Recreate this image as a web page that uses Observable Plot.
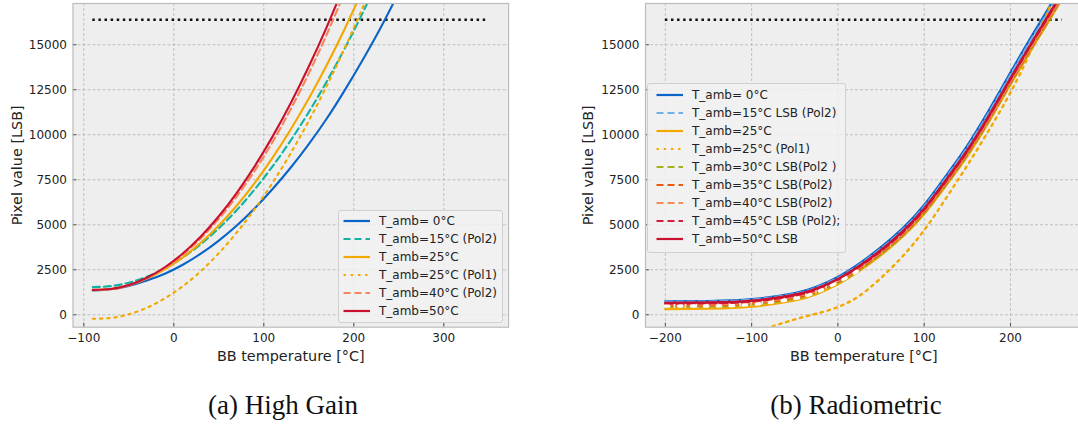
<!DOCTYPE html>
<html><head><meta charset="utf-8">
<script src="https://cdn.jsdelivr.net/npm/d3@7"></script>
<script src="https://cdn.jsdelivr.net/npm/@observablehq/plot@0.6"></script>
<style>
html,body{margin:0;padding:0;background:#fff;overflow:hidden;}
#root{position:relative;width:1078px;height:424px;overflow:hidden;font-family:"DejaVu Sans",sans-serif;}
.panel{position:absolute;top:0;}
.caption{position:absolute;top:390px;height:30px;line-height:30px;font-family:"Liberation Serif","Times New Roman",serif;font-size:27px;color:#111;transform:translateX(-50%);white-space:nowrap;}
.legend{position:absolute;background:rgba(241,241,241,0.85);border:1px solid #d0d0d0;border-radius:3px;font-size:12px;color:#222;box-sizing:border-box;}
.legend .row{position:absolute;height:14px;line-height:14px;white-space:nowrap;}
.legend svg{position:absolute;top:2px;}
.legend span{position:absolute;top:0;}
</style></head><body><div id="root"></div>
<script>
// ---------------- data ----------------
const satLimit = 16383;
const yTicks = [0, 2500, 5000, 7500, 10000, 12500, 15000];
const yDomain = [-690, 17290];

// (a) High Gain
const hgTicksX = [-100, 0, 100, 200, 300];
const hgDomainX = [-112, 372];
const hgSatRange = [-90, 350];
const hgTemps = [-90,-70,-50,-30,-10,10,30,50,70,90,110,130,150,170,190,210,230,250];
const hgT0     = [1350,1420,1600,1900,2280,2780,3390,4120,4960,5920,7000,8180,9480,10900,12480,14170,15960,17900];
const hgT15p2  = [1537,1591,1782,2111,2577,3181,3923,4802,5817,6971,8263,9692,11259,12962,14804,16783,18900,null];
const hgT25    = [1370,1433,1646,2008,2521,3183,3996,4958,6069,7332,8744,10306,12018,13879,15891,18052,null,null];
const hgT25p1  = [-223,-177,26,388,909,1587,2424,3420,4573,5885,7355,8984,10771,12715,14819,17080,19500,null];
const hgT40p2  = [1380,1420,1630,2020,2590,3330,4250,5330,6580,8010,9620,11430,13410,15580,17930,null,null,null];
const hgT50    = [1384,1428,1652,2056,2640,3404,4348,5472,6776,8260,9924,11768,13792,15996,18380,null,null,null];

// (b) Radiometric
const radTicksX = [-200, -100, 0, 100, 200];
const radDomainX = [-223, 283];
const radSatRange = [-200, 260];
const radTemps = [-200,-150,-100,-50,-25,0,25,50,75,100,125,150,175,200,225,250,270];
const radT0    = [740,760,860,1200,1550,2100,2850,3750,4800,6100,7700,9400,11350,13450,15500,17500,19200];
const radT15p2 = [710,730,830,1160,1500,2040,2780,3670,4710,6000,7590,9280,11220,13310,15350,17340,19030];
const radT25   = [320,340,450,800,1150,1700,2440,3320,4340,5600,7160,8820,10730,12790,14800,16760,18430];
const radT25p1 = [null,null,-1000,-260,60,430,1060,2050,3250,4700,6450,8300,10250,12350,14800,17600,19800];
const radT30p2 = [440,460,560,890,1230,1770,2500,3370,4380,5640,7200,8860,10770,12830,14840,16800,18470];
const radT35p2 = [500,520,620,950,1290,1830,2560,3430,4450,5710,7270,8930,10840,12900,14910,16870,18540];
const radT40p2 = [560,580,680,1010,1350,1890,2620,3490,4510,5780,7340,9000,10910,12970,14980,16940,18620];
const radT45p2 = [620,640,740,1070,1410,1950,2680,3550,4570,5840,7410,9080,11000,13070,15090,17060,18740];
const radT50   = [660,680,780,1110,1450,1990,2720,3600,4630,5900,7470,9140,11060,13130,15150,17120,18800];
const radWhite = [480,490,570,900,1250,1800,2500,null,null,null,null,null,null,null,null,null,null];

// ---------------- styling ----------------
const DASH = "7,4", DOT = "2.4,4.8";
const hgSeries = [
  {label:"T_amb= 0°C",        vals:hgT0,    color:"#0a64c8", dash:null},
  {label:"T_amb=15°C (Pol2)", vals:hgT15p2, color:"#10b3a3", dash:DASH},
  {label:"T_amb=25°C",        vals:hgT25,   color:"#f3a800", dash:null},
  {label:"T_amb=25°C (Pol1)", vals:hgT25p1, color:"#f3a800", dash:DOT},
  {label:"T_amb=40°C (Pol2)", vals:hgT40p2, color:"#f8845a", dash:DASH},
  {label:"T_amb=50°C",        vals:hgT50,   color:"#c9102f", dash:null}
];
const radSeries = [
  {label:"T_amb= 0°C",              vals:radT0,    color:"#0a64c8", dash:null},
  {label:"T_amb=15°C LSB (Pol2)",   vals:radT15p2, color:"#6db0ea", dash:DASH},
  {label:"T_amb=25°C",              vals:radT25,   color:"#f3a800", dash:null},
  {label:"T_amb=25°C (Pol1)",       vals:radT25p1, color:"#f3a800", dash:DOT},
  {label:"T_amb=30°C LSB(Pol2 )",   vals:radT30p2, color:"#a2b11c", dash:DASH},
  {label:"T_amb=35°C LSB(Pol2)",    vals:radT35p2, color:"#ea5a0c", dash:DASH},
  {label:"T_amb=40°C LSB(Pol2)",    vals:radT40p2, color:"#f78a56", dash:DASH},
  {label:"T_amb=45°C LSB (Pol2);",  vals:radT45p2, color:"#d41d3b", dash:DASH},
  {label:"T_amb=50°C LSB",          vals:radT50,   color:"#c9102f", dash:null}
];

function rows(temps, vals){ return temps.map((t,i)=>({t, v: vals[i]})).filter(d => d.v != null); }

function panel(o){
  const plotW = o.width - o.marginLeft - o.marginRight;
  const plotH = o.height - o.marginTop - o.marginBottom;
  const marks = [
    Plot.frame({fill:"#eeeeee", stroke:null}),
    Plot.gridX(o.xTicks, {stroke:"#b4b4b4", strokeOpacity:1, strokeWidth:0.8, strokeDasharray:"3,2"}),
    Plot.gridY(yTicks, {stroke:"#b4b4b4", strokeOpacity:1, strokeWidth:0.8, strokeDasharray:"3,2"}),
    Plot.ruleY([satLimit], {x1: o.satRange[0], x2: o.satRange[1], stroke:"#111", strokeWidth:2.5, strokeDasharray:"2.5,3.6"})
  ];
  for (const s of o.series) {
    marks.push(Plot.line(rows(o.temps, s.vals), {x:"t", y:"v", stroke:s.color, strokeWidth:o.lineWidth,
      strokeDasharray:s.dash || undefined, curve:"natural", clip:true}));
  }
  if (o.extra) marks.push(...o.extra);
  marks.push(
    Plot.ruleX(o.xTicks, {x:d=>d, insetTop: plotH - 4, stroke:"#555", strokeWidth:1}),
    Plot.ruleY(yTicks, {y:d=>d, insetRight: plotW - 4, stroke:"#555", strokeWidth:1}),
    Plot.frame({stroke:"#bcbcbc", strokeWidth:1.2}),
    Plot.axisX({ticks:o.xTicks, tickSize:0, tickPadding:6, fontSize:12, label:null, color:"#222", tickFormat:d3.format("d")}),
    Plot.axisY({ticks:yTicks, tickSize:0, tickPadding:6, fontSize:12, label:null, color:"#222", tickFormat:d3.format("d")}),
    Plot.text(["BB temperature [°C]"], {frameAnchor:"bottom", dy:29.5, text:d=>d, fontSize:14.4, fill:"#222", textAnchor:"middle", lineAnchor:"middle"}),
    Plot.text(["Pixel value [LSB]"], {frameAnchor:"left", dx:o.yLabelDx, rotate:-90, text:d=>d, fontSize:14.4, fill:"#222", textAnchor:"middle", lineAnchor:"middle"})
  );
  return Plot.plot({
    width:o.width, height:o.height,
    marginLeft:o.marginLeft, marginRight:o.marginRight, marginTop:o.marginTop, marginBottom:o.marginBottom,
    x:{domain:o.xDomain}, y:{domain:yDomain},
    style:{fontFamily:"DejaVu Sans, sans-serif", fontSize:"12px", background:"transparent", overflow:"visible", color:"#222"},
    marks
  });
}

function legend(series, box){
  const div = document.createElement("div");
  div.className = "legend";
  Object.assign(div.style, {left:box.left+"px", top:box.top+"px", width:box.width+"px", height:box.height+"px"});
  series.forEach((s,i) => {
    const r = document.createElement("div");
    r.className = "row";
    r.style.top = (box.first + i*box.step - 7) + "px";
    r.style.left = "0px";
    r.innerHTML = `<svg width="28" height="10" style="left:${box.swatch}px"><line x1="0.5" x2="27" y1="5" y2="5" stroke="${s.color}" stroke-width="2.2" ${s.dash?`stroke-dasharray="${s.dash}"`:""}/></svg><span style="left:${box.text}px">${s.label}</span>`;
    div.appendChild(r);
  });
  return div;
}

const root = document.getElementById("root");

const left = panel({width:540, height:372, marginLeft:72.5, marginRight:31.9, marginTop:3, marginBottom:45.3, lineWidth:2.1,
  xDomain:hgDomainX, xTicks:hgTicksX, satRange:hgSatRange, temps:hgTemps, series:hgSeries, yLabelDx:-55.5});
left.classList.add("panel"); left.style.left = "0px";
root.appendChild(left);

const whiteLine = Plot.line(rows(radTemps, radWhite), {x:"t", y:"v", stroke:"#ffffff", strokeWidth:3.4, strokeDasharray:"3.4,9.6", curve:"natural", clip:true});
const right = panel({width:545, height:372, marginLeft:105, marginRight:3.4, marginTop:3, marginBottom:45.3, lineWidth:2.4,
  xDomain:radDomainX, xTicks:radTicksX, satRange:radSatRange, temps:radTemps, series:radSeries, yLabelDx:-57, extra:[whiteLine]});
right.classList.add("panel"); right.style.left = "540px";
root.appendChild(right);

root.appendChild(legend(hgSeries, {left:338, top:210, width:165, height:113, first:10, step:18, swatch:4, text:40}));
root.appendChild(legend(radSeries, {left:647, top:83, width:199, height:170, first:10.5, step:18.1, swatch:8, text:44}));

for (const [txt, cx] of [["(a) High Gain", 283], ["(b) Radiometric", 856]]) {
  const c = document.createElement("div");
  c.className = "caption"; c.style.left = cx + "px"; c.textContent = txt;
  root.appendChild(c);
}
</script></body></html>
